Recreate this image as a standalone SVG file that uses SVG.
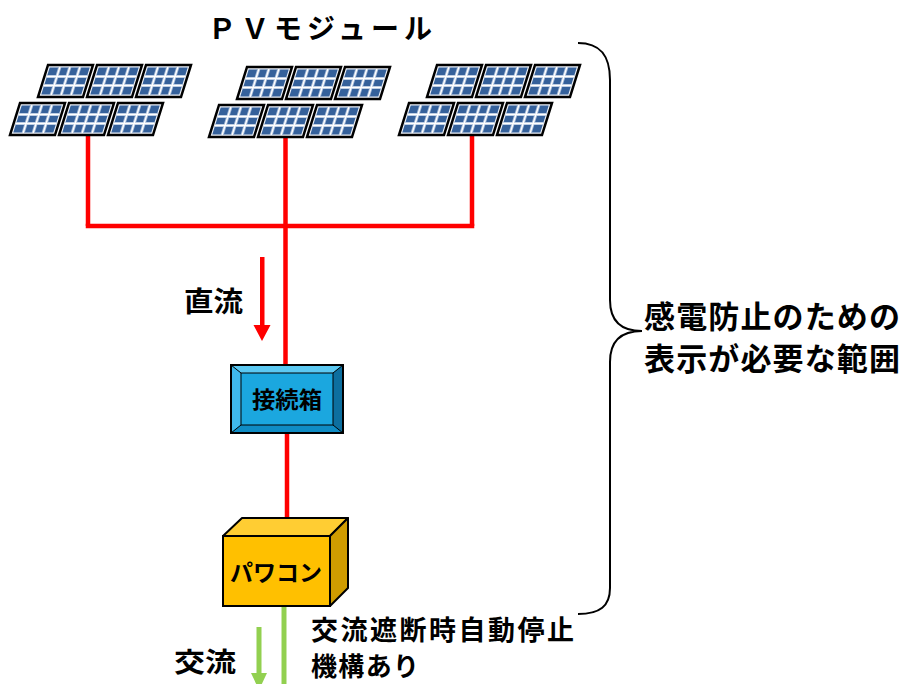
<svg xmlns="http://www.w3.org/2000/svg" xmlns:xlink="http://www.w3.org/1999/xlink" width="904" height="684" viewBox="0 0 904 684">
  <style>
    text { font-family: "Noto Sans CJK JP", "Noto Sans", sans-serif; font-weight: 700; fill: #000; }
    .dc { stroke: #ff0000; stroke-width: 4.5; fill: none; }
    .ac { stroke: #92d050; stroke-width: 5; fill: none; }
  </style>
  <defs>
    <!-- one solar panel, drawn unskewed; placed with translate + skewX -->
    <g id="panel">
      <rect x="0" y="0" width="45" height="32" fill="#eef2f8"/>
      <rect x="2.5" y="2.5" width="40" height="27" fill="#35619b"/>
      <g stroke="#a9bedb" stroke-width="3.2">
        <line x1="12.5" y1="2" x2="12.5" y2="30"/>
        <line x1="22.5" y1="2" x2="22.5" y2="30"/>
        <line x1="32.5" y1="2" x2="32.5" y2="30"/>
        <line x1="2" y1="11.5" x2="43" y2="11.5"/>
        <line x1="2" y1="20.5" x2="43" y2="20.5"/>
      </g>
      <g stroke="#ffffff" stroke-width="1.4">
        <line x1="12.5" y1="2" x2="12.5" y2="30"/>
        <line x1="22.5" y1="2" x2="22.5" y2="30"/>
        <line x1="32.5" y1="2" x2="32.5" y2="30"/>
        <line x1="2" y1="11.5" x2="43" y2="11.5"/>
        <line x1="2" y1="20.5" x2="43" y2="20.5"/>
      </g>
      <rect x="0" y="0" width="45" height="32" fill="none" stroke="#000" stroke-width="2.6"/>
    </g>
    <!-- a block of six panels in two rows -->
    <g id="array">
      <use xlink:href="#panel" transform="translate(48,65) skewX(-17.35)"/>
      <use xlink:href="#panel" transform="translate(97,65) skewX(-17.35)"/>
      <use xlink:href="#panel" transform="translate(146,65) skewX(-17.35)"/>
      <use xlink:href="#panel" transform="translate(20,103) skewX(-17.35)"/>
      <use xlink:href="#panel" transform="translate(69,103) skewX(-17.35)"/>
      <use xlink:href="#panel" transform="translate(118,103) skewX(-17.35)"/>
    </g>
  </defs>

  <rect width="904" height="684" fill="#ffffff"/>

  <!-- title -->
  <text x="208" y="39" font-size="28" textLength="224" lengthAdjust="spacing">ＰＶモジュール</text>

  <!-- connectors -->
  <g id="connectors">
    <line class="dc" x1="88" y1="135" x2="88" y2="226"/>
    <line class="dc" x1="472" y1="135" x2="472" y2="226"/>
    <line class="dc" x1="285.5" y1="137" x2="285.5" y2="366"/>
    <polyline class="dc" points="85.75,226 474.25,226"/>
    <line class="dc" x1="287" y1="433" x2="287" y2="528"/>
    <line class="ac" x1="284" y1="606" x2="284" y2="684"/>
    <!-- direction arrows -->
    <rect x="260" y="257" width="4.5" height="69" fill="#ff0000"/>
    <polygon points="253.5,325 270.5,325 262,341" fill="#ff0000"/>
    <rect x="256.5" y="627" width="5" height="47" fill="#92d050"/>
    <polygon points="251,673 267,673 259,690" fill="#92d050"/>
  </g>

  <!-- PV arrays -->
  <g id="pv-array-1"><use xlink:href="#array"/></g>
  <g id="pv-array-2"><use xlink:href="#array" transform="translate(199,2)"/></g>
  <g id="pv-array-3"><use xlink:href="#array" transform="translate(389,0)"/></g>

  <!-- junction box -->
  <g id="junction-box">
    <rect x="231" y="365" width="112" height="68" fill="#1ba7df"/>
    <polygon points="231,365 343,365 333,373 241,373" fill="#5cc9f2"/>
    <polygon points="231,365 241,373 241,425 231,433" fill="#3fb9ec"/>
    <polygon points="343,365 343,433 333,425 333,373" fill="#0d6f9f"/>
    <polygon points="231,433 241,425 333,425 343,433" fill="#0f8cc4"/>
    <rect x="241" y="373" width="92" height="52" fill="#1ba7df" stroke="#000" stroke-width="1"/>
    <g stroke="#000" stroke-width="1">
      <line x1="231" y1="365" x2="241" y2="373"/>
      <line x1="343" y1="365" x2="333" y2="373"/>
      <line x1="231" y1="433" x2="241" y2="425"/>
      <line x1="343" y1="433" x2="333" y2="425"/>
    </g>
    <rect x="231" y="365" width="112" height="68" fill="none" stroke="#000" stroke-width="2"/>
    <text x="287" y="408" font-size="23" text-anchor="middle" textLength="70" lengthAdjust="spacingAndGlyphs">接続箱</text>
  </g>

  <!-- power conditioner -->
  <g id="power-conditioner">
    <polygon points="223,536 242,518 348,518 330,536" fill="#ffcd33" stroke="#000" stroke-width="2" stroke-linejoin="round"/>
    <polygon points="330,536 348,518 348,588 330,606" fill="#d09c00" stroke="#000" stroke-width="2" stroke-linejoin="round"/>
    <rect x="223" y="536" width="107" height="70" fill="#ffc000" stroke="#000" stroke-width="2"/>
    <text x="276" y="581" font-size="23" text-anchor="middle" textLength="92" lengthAdjust="spacingAndGlyphs">パワコン</text>
  </g>

  <!-- flow labels -->
  <text x="184" y="312" font-size="28" textLength="59" lengthAdjust="spacingAndGlyphs">直流</text>
  <text x="174" y="672" font-size="27" textLength="62" lengthAdjust="spacingAndGlyphs">交流</text>
  <text x="311" y="640" font-size="27" textLength="263" lengthAdjust="spacing">交流遮断時自動停止</text>
  <text x="311" y="676" font-size="26" textLength="108" lengthAdjust="spacing">機構あり</text>

  <!-- range bracket and note -->
  <g id="range">
    <path d="M578,43 C600,43 610,55 610,80 L610,300 C610,320 620,331 642,331 C620,331 610,342 610,362 L610,588 C610,606 600,614 578,614" fill="none" stroke="#000" stroke-width="2"/>
    <text x="644" y="328" font-size="31" textLength="256" lengthAdjust="spacing">感電防止のための</text>
    <text x="644" y="370" font-size="31" textLength="256" lengthAdjust="spacing">表示が必要な範囲</text>
  </g>
</svg>
